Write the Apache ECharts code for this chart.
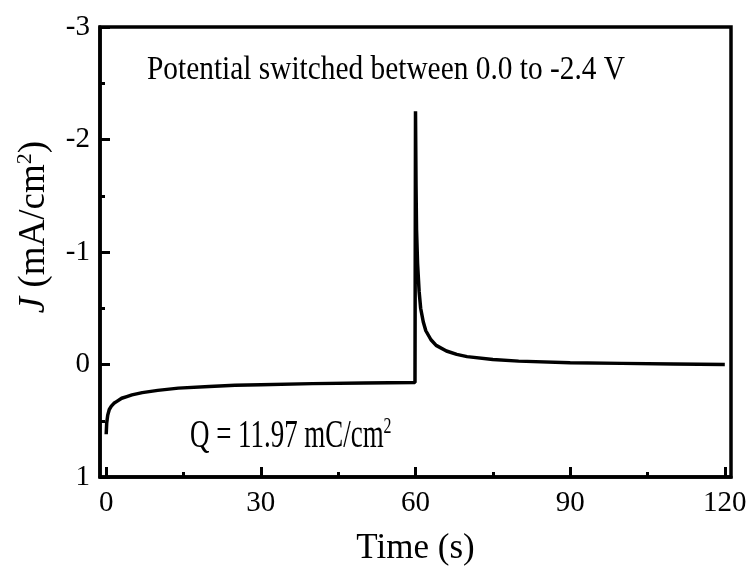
<!DOCTYPE html>
<html>
<head>
<meta charset="utf-8">
<script src="https://cdn.jsdelivr.net/npm/echarts@6/dist/echarts.min.js"></script>
<style>
  html, body { margin: 0; padding: 0; background: #fff; }
  #chart { width: 754px; height: 571px; }
</style>
</head>
<body>
<div id="chart"></div>
<script>
// time (s) and current density J (mA/cm2)
const timeS = [0, 0.1, 0.3, 0.6, 1, 1.5, 2, 3, 4, 5, 7, 10, 14, 20, 25, 30, 40, 50, 59.9,
  60, 60.1, 60.2, 60.4, 60.7, 61, 61.5, 62, 63, 64, 66, 68, 70, 75, 80, 90, 100, 110, 120]
const currentJ = [0.62, 0.52, 0.45, 0.40, 0.37, 0.345, 0.33, 0.30, 0.285, 0.27, 0.25, 0.23, 0.21, 0.195, 0.185, 0.18, 0.17, 0.165, 0.16,
  -2.25, -1.6, -1.2, -0.9, -0.65, -0.5, -0.38, -0.3, -0.22, -0.17, -0.12, -0.09, -0.07, -0.045, -0.03, -0.015, -0.01, -0.005, 0]
const xTicks = [0, 30, 60, 90, 120]
const xMinorTicks = [15, 45, 75, 105]

const serif = 'Liberation Serif'
const chart = echarts.init(document.getElementById('chart'))

chart.setOption({
  animation: false,
  grid: {
    left: 100, top: 27, right: 23, bottom: 83,
    show: true, borderColor: '#000', borderWidth: 3.5
  },
  xAxis: [
    {
      type: 'value',
      min: -1.2,
      max: 121.2,
      name: 'Time (s)',
      nameLocation: 'middle',
      nameGap: 54,
      nameTextStyle: { fontFamily: serif, fontSize: 35, color: '#000' },
      axisLine: { onZero: false, lineStyle: { color: '#000', width: 3.5 } },
      axisTick: { inside: true, length: 10, lineStyle: { width: 3 }, customValues: xTicks },
      axisLabel: { fontFamily: serif, fontSize: 29, color: '#000', margin: 12, customValues: xTicks },
      splitLine: { show: false }
    },
    {
      type: 'value',
      min: -1.2,
      max: 121.2,
      position: 'bottom',
      axisLine: { show: false, onZero: false },
      axisTick: { inside: true, length: 5, lineStyle: { width: 3, color: '#000' }, customValues: xMinorTicks },
      axisLabel: { show: false, customValues: xMinorTicks },
      splitLine: { show: false }
    }
  ],
  yAxis: {
    type: 'value',
    inverse: true,
    min: -3,
    max: 1,
    interval: 1,
    name: '{i|J} (mA/cm{sup|2})',
    nameLocation: 'middle',
    nameGap: 46,
    nameTextStyle: {
      fontFamily: serif, fontSize: 37, color: '#000',
      padding: [0, 0, 0, 50],
      rich: {
        i: { fontFamily: serif, fontSize: 37, fontStyle: 'italic', color: '#000' },
        sup: { fontFamily: serif, fontSize: 22, color: '#000', padding: [0, 0, 18, 0] }
      }
    },
    axisLine: { onZero: false, lineStyle: { color: '#000', width: 3.5 } },
    axisTick: { inside: true, length: 10, lineStyle: { width: 3 } },
    minorTick: { show: true, splitNumber: 2, length: 5, lineStyle: { color: '#000', width: 3 } },
    axisLabel: { fontFamily: serif, fontSize: 29, color: '#000', margin: 10 },
    splitLine: { show: false }
  },
  graphic: [
    {
      type: 'text', left: 147, top: 54, scaleX: 0.89,
      style: { text: 'Potential switched between 0.0 to -2.4 V', font: '33px "Liberation Serif"', fill: '#000' }
    },
    {
      type: 'text', left: 190, top: 415, scaleX: 0.69,
      style: {
        text: 'Q = 11.97 mC/cm{sup|2}',
        font: '39px "Liberation Serif"', fill: '#000',
        rich: { sup: { fontFamily: serif, fontSize: 23, fill: '#000', padding: [0, 0, 20, 0] } }
      }
    }
  ],
  series: [
    {
      type: 'line',
      data: timeS.map((t, i) => [t, currentJ[i]]),
      showSymbol: false,
      lineStyle: { color: '#000', width: 3.5 }
    }
  ]
})
</script>
</body>
</html>
